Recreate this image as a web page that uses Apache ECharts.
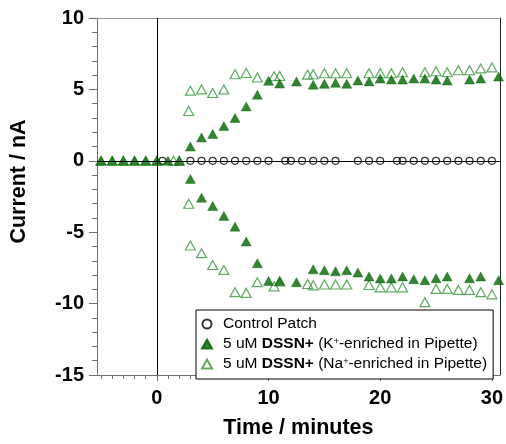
<!DOCTYPE html>
<html>
<head>
<meta charset="utf-8">
<script src="https://cdn.jsdelivr.net/npm/echarts@6/dist/echarts.min.js"></script>
<style>html,body{margin:0;padding:0;background:#fff;}#c{width:506px;height:444px;}</style>
</head>
<body>
<div id="c"></div>
<script>
// ---- data ----
const xTickLabels = [0, 10, 20, 30];
const yTickLabels = [-15, -10, -5, 0, 5, 10];

const ctrlTimes = [0.5, 3, 4, 5, 6, 7, 8, 9, 10, 11.5, 12, 13, 14, 15, 16, 18, 19, 20, 21.5, 22, 23, 24, 25, 26, 27, 28, 29, 30];
const ctrlCurrent = [0, 0, 0, 0, 0, 0, 0, 0, 0, 0, 0, 0, 0, 0, 0, 0, 0, 0, 0, 0, 0, 0, 0, 0, 0, 0, 0, 0];

const kBaseTimes = [-5, -4, -3, -2, -1, 0, 1, 2];
const kBaseCurrent = [0, 0, 0, 0, 0, 0, 0, 0];
const kTimes = [3, 4, 5, 6, 7, 8, 9, 10, 11, 12.5, 14, 15, 16, 17, 18, 19, 20, 21, 22, 23, 24, 25, 26, 28, 29, 30.6];
const kUp = [1.0, 1.63, 1.88, 2.43, 3.0, 3.81, 4.63, 5.6, 5.41, 5.55, 5.33, 5.39, 5.46, 5.39, 5.62, 5.56, 5.76, 5.69, 5.69, 5.76, 5.76, 5.69, 5.62, 5.69, 5.76, 5.9];
const kDown = [-1.27, -2.58, -3.17, -3.86, -4.61, -5.65, -7.17, -8.42, -8.42, -8.5, -7.6, -7.67, -7.74, -7.67, -7.83, -8.1, -8.24, -8.24, -8.1, -8.29, -8.36, -8.22, -8.1, -8.22, -8.1, -8.36];

const naBaseTimes = [-5, -4, -3, -2, -1, 0, 1.5, 2];
const naBaseCurrent = [0, 0, 0, 0, 0, 0, 0, 0];
const naTimes = [2.85, 3, 4, 5, 6, 7, 8, 9, 10.5, 11, 13.5, 14, 15, 16, 17, 19, 20, 21, 22, 24, 25, 26, 27, 28, 29, 30];
const naUp = [3.49, 4.91, 5.0, 4.75, 5.0, 6.06, 6.15, 5.83, 5.92, 5.94, 6.03, 6.06, 6.13, 6.13, 6.13, 6.13, 6.13, 6.13, 6.2, 6.2, 6.27, 6.2, 6.34, 6.34, 6.47, 6.54];
const naDown = [-3.01, -5.93, -6.47, -7.3, -7.64, -9.2, -9.25, -8.5, -8.79, -8.45, -8.63, -8.72, -8.66, -8.66, -8.66, -8.7, -8.86, -8.86, -8.86, -9.9, -8.97, -8.97, -9.04, -9.04, -9.2, -9.35];

const seriesNames = ['Control Patch', 'K', 'Na'];
const legendTexts = {
  'Control Patch': 'Control Patch',
  'K': '5 uM {b|DSSN+} (K{sup|+}-enriched in Pipette)',
  'Na': '5 uM {b|DSSN+} (Na{sup|+}-enriched in Pipette)'
};

// ---- build ----
const pairs = (t, v) => t.map((x, i) => [x, v[i]]);
const minorTicks = [];
for (let t = -5; t <= 30; t++) minorTicks.push(t);

const FONT = '"Liberation Sans", Arial, sans-serif';
const DARK = '#006400';
const LIGHT = '#3a953a';
const AXC = '#707070';
const xMin = -5.36, xMax = 30.71;

const chart = echarts.init(document.getElementById('c'), null, {renderer: 'canvas'});
chart.setOption({
  animation: false,
  backgroundColor: '#fff',
  grid: {left: 96, right: 6, top: 18, bottom: 63, containLabel: false},
  xAxis: [
    {
      type: 'value', min: xMin, max: xMax, position: 'bottom',
      name: 'Time / minutes', nameLocation: 'middle', nameGap: 42,
      nameTextStyle: {fontFamily: FONT, fontWeight: 'bold', fontSize: 21.5, color: '#000'},
      axisLine: {show: true, onZero: false, lineStyle: {color: AXC, width: 1}},
      axisTick: {show: true, length: 6, customValues: xTickLabels, lineStyle: {color: AXC}},
      axisLabel: {customValues: xTickLabels, margin: 13, fontFamily: FONT, fontWeight: 'bold', fontSize: 20, color: '#000'},
      splitLine: {show: false}
    },
    {
      type: 'value', min: xMin, max: xMax, position: 'bottom', gridIndex: 0,
      axisLine: {show: false, onZero: false},
      axisTick: {show: true, length: 4, customValues: minorTicks, lineStyle: {color: AXC}},
      axisLabel: {show: false}, splitLine: {show: false}
    },
    {
      type: 'value', min: xMin, max: xMax, position: 'top',
      axisLine: {show: true, onZero: false, lineStyle: {color: '#999', width: 1}},
      axisTick: {show: false}, axisLabel: {show: false}, splitLine: {show: false}
    }
  ],
  yAxis: [
    {
      type: 'value', min: -15, max: 10, interval: 5, position: 'left',
      name: 'Current / nA', nameLocation: 'middle', nameGap: 67, nameRotate: 90,
      nameTextStyle: {fontFamily: FONT, fontWeight: 'bold', fontSize: 21.5, color: '#000', padding: [0, 0, 0, 30]},
      axisLine: {show: true, onZero: false, lineStyle: {color: AXC, width: 1}},
      axisTick: {show: true, length: 8, lineStyle: {color: AXC}},
      minorTick: {show: true, splitNumber: 5, length: 5, lineStyle: {color: AXC}},
      axisLabel: {margin: 13, fontFamily: FONT, fontWeight: 'bold', fontSize: 20, color: '#000',
        customValues: yTickLabels},
      splitLine: {show: false}
    },
    {
      type: 'value', min: -15, max: 10, position: 'right',
      axisLine: {show: true, onZero: false, lineStyle: {color: '#222', width: 1}},
      axisTick: {show: false}, axisLabel: {show: false}, splitLine: {show: false}
    }
  ],
  legend: {
    orient: 'vertical', left: 196, top: 310,
    data: seriesNames,
    backgroundColor: '#fff',
    borderColor: '#000', borderWidth: 1,
    padding: [6, 6, 7, 5],
    itemGap: 4, itemWidth: 10, itemHeight: 9,
    formatter: name => legendTexts[name],
    textStyle: {
      fontFamily: FONT, fontSize: 15.5, color: '#000', lineHeight: 14, padding: [0, 0, 0, 6],
      rich: {
        b: {fontFamily: FONT, fontSize: 15.5, fontWeight: 'bold', color: '#000', lineHeight: 14},
        sup: {fontFamily: FONT, fontSize: 9, color: '#000', lineHeight: 14, verticalAlign: 'top', padding: [0, 0, 6, 0]}
      }
    },
    selectedMode: false
  },
  series: [
    {
      name: 'Na', type: 'scatter', z: 2,
      symbol: 'triangle', symbolSize: [10, 9],
      itemStyle: {color: 'rgba(255,255,255,0)', borderColor: LIGHT, borderWidth: 1.2},
      data: pairs(naBaseTimes, naBaseCurrent).concat(pairs(naTimes, naUp), pairs(naTimes, naDown))
    },
    {
      name: 'Control Patch', type: 'scatter', z: 3,
      symbol: 'circle', symbolSize: 7,
      itemStyle: {color: 'rgba(255,255,255,0)', borderColor: '#000', borderWidth: 1.2},
      data: pairs(ctrlTimes, ctrlCurrent),
      markLine: {
        silent: true, symbol: 'none', label: {show: false},
        lineStyle: {color: '#000', width: 1, type: 'solid'},
        data: [{xAxis: 0}, {yAxis: 0}]
      }
    },
    {
      name: 'K', type: 'scatter', z: 4,
      symbol: 'triangle', symbolSize: [10, 9],
      itemStyle: {color: DARK, borderColor: DARK, borderWidth: 0.5},
      data: pairs(kBaseTimes, kBaseCurrent).concat(pairs(kTimes, kUp), pairs(kTimes, kDown))
    }
  ]
});
</script>
</body>
</html>
